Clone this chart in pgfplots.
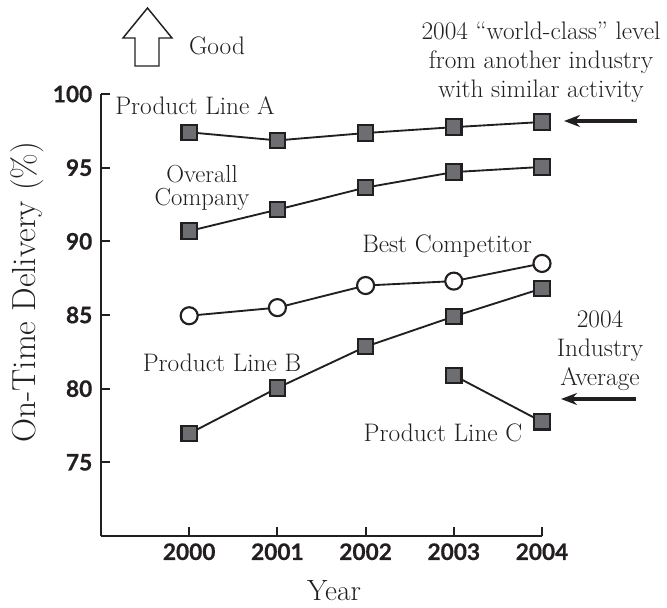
\documentclass[border=0pt]{standalone}
\usepackage{pgfplots}
\pgfplotsset{compat=1.18}
\usepackage{fontspec}
\newfontfamily\ticksf[BoldFeatures={FakeBold=0.6}]{Lato}
\usetikzlibrary{arrows.meta}
\definecolor{ink}{HTML}{231F20}
\definecolor{mk}{HTML}{6D6E71}
\newcommand{\lbl}{\fontsize{19}{22}\selectfont}
\newcommand{\axl}{\fontsize{22}{25}\selectfont}
\newcommand{\ayl}{\fontsize{25}{28}\selectfont}
\begin{document}
\begin{tikzpicture}
\begin{scope}[x=0.75pt,y=-0.75pt,shift={(-75.75pt,402pt)}]
\useasboundingbox (0,0) rectangle (667,607);
\end{scope}
\begin{axis}[at={(0,0)},anchor=south west,scale only axis,
  width=330.75pt,height=331.5pt,
  xmin=1999,xmax=2004,ymin=70,ymax=100,
  axis x line*=bottom, axis y line*=left,
  axis line style={ink,line width=1.6pt,-},
  clip=false,
  xtick={2000,2001,2002,2003,2004}, ytick={75,80,85,90,95,100},
  tick align=inside, major tick length=7pt,
  tick style={ink,line width=1.6pt},
  /pgf/number format/assume math mode=true,
  /pgf/number format/1000 sep={},
  tick label style={font=\ticksf\bfseries\fontsize{17}{19}\selectfont,text=ink},
  xticklabel style={yshift=-2pt},
  yticklabel style={xshift=-3pt},
  every axis plot/.append style={ink,line width=1.4pt},
]
\addplot[mark=square*,mark size=5.8pt,mark options={fill=mk,draw=ink,line width=1.6pt}]
  coordinates {(2000,97.4) (2001,96.85) (2002,97.35) (2003,97.75) (2004,98.1)};
\addplot[mark=square*,mark size=5.8pt,mark options={fill=mk,draw=ink,line width=1.6pt}]
  coordinates {(2000,90.7) (2001,92.15) (2002,93.65) (2003,94.7) (2004,95.05)};
\addplot[mark=*,mark size=6.4pt,mark options={fill=white,draw=ink,line width=1.6pt}]
  coordinates {(2000,84.95) (2001,85.5) (2002,87.0) (2003,87.3) (2004,88.5)};
\addplot[mark=square*,mark size=5.8pt,mark options={fill=mk,draw=ink,line width=1.6pt}]
  coordinates {(2000,76.95) (2001,80.05) (2002,82.85) (2003,84.9) (2004,86.8)};
\addplot[mark=square*,mark size=5.8pt,mark options={fill=mk,draw=ink,line width=1.6pt}]
  coordinates {(2003,80.9) (2004,77.75)};
\end{axis}
\begin{scope}[x=0.75pt,y=-0.75pt,shift={(-75.75pt,402pt)},text=ink,every node/.style={inner sep=0pt,anchor=base}]
% up arrow
\draw[ink,line width=1.1pt,fill=white] (147.5,8) -- (172,38) -- (159,38) -- (159,66) -- (135,66) -- (135,38) -- (123,38) -- cycle;
\node[font=\lbl] at (217,55) {Good};
\node[font=\lbl] at (195,115) {Product Line A};
\node[font=\fontsize{18.5}{17.5}\selectfont,align=center,anchor=north] at (202,165) {Overall\\Company};
\node[font=\lbl] at (447,253) {Best Competitor};
\node[font=\lbl] at (222,371) {Product Line B};
\node[font=\lbl] at (443,441) {Product Line C};
\node[font=\fontsize{19}{21.75}\selectfont,align=center,anchor=north] at (541,21.5) {2004 ``world-class'' level\\from another industry\\with similar activity};
\node[font=\fontsize{19}{21.5}\selectfont,align=center,anchor=north] at (600,310.5) {2004\\Industry\\Average};
\draw[ink,line width=2.3pt,-{Stealth[length=12pt,width=9pt]}] (637,121) -- (564,121);
\draw[ink,line width=2.3pt,-{Stealth[length=12pt,width=9pt]}] (636,399) -- (561,399);
\node[rotate=90,font=\ayl] at (36,292) {On-Time Delivery (\%)};
\node[font=\axl] at (334,600) {Year};
\end{scope}
\end{tikzpicture}
\end{document}
